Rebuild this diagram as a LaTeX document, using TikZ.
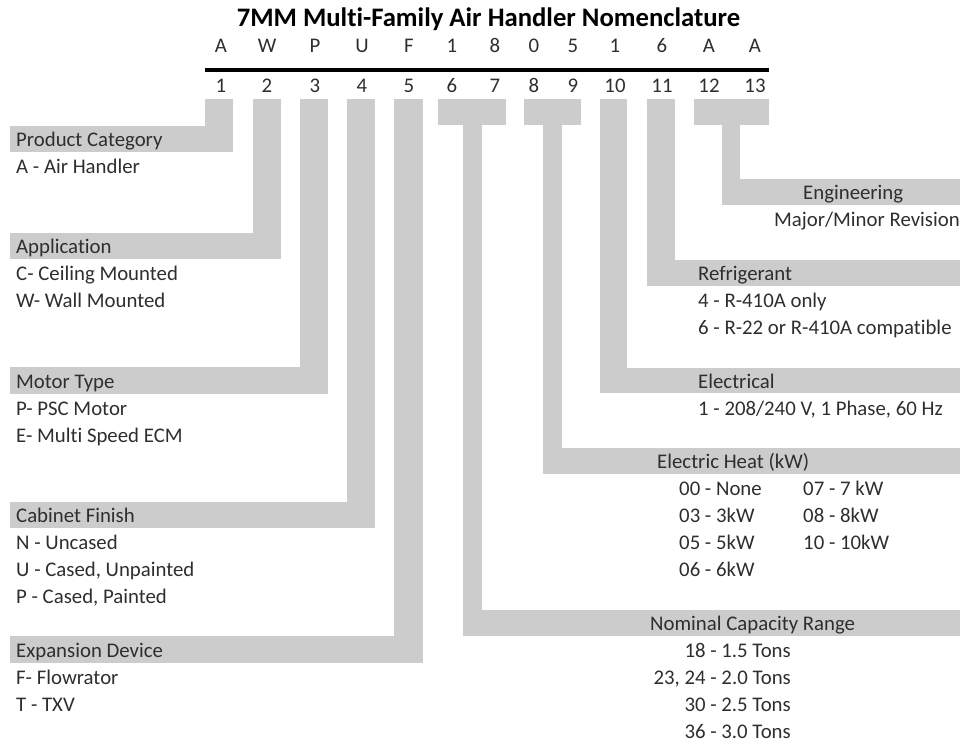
\documentclass[tikz,border=0pt]{standalone}
\usepackage{fontspec}
\setmainfont{Carlito}[Ligatures={NoCommon}]
\usetikzlibrary{positioning}
\definecolor{bargray}{HTML}{CCCCCC}
\definecolor{inkgray}{HTML}{2E2E2E}
\tikzset{
  txt/.style={inner sep=0pt, text=inkgray, font=\fontsize{20.8bp}{24bp}\selectfont},
  lbl/.style={txt, anchor=base west},
  rlbl/.style={txt, anchor=base east},
  digit/.style={txt, anchor=base},
}

\begin{document}
\begin{tikzpicture}[x=1bp, y=-1bp]
    \useasboundingbox (0,0) rectangle (964,742);
    \node [digit, font=\fontsize{26.7bp}{30bp}\selectfont\bfseries, text=black] (title) at (488.5,27) {7MM Multi-Family Air Handler Nomenclature};
    %
    \node [digit] (c1) at (221,53) {A};
    \node [digit] (c2) at (267,53) {W};
    \node [digit] (c3) at (315,53) {P};
    \node [digit] (c4) at (362,53) {U};
    \node [digit] (c5) at (409,53) {F};
    \node [digit] (c6) at (452,53) {1};
    \node [digit] (c7) at (495,53) {8};
    \node [digit] (c8) at (534,53) {0};
    \node [digit] (c9) at (573,53) {5};
    \node [digit] (c10) at (615,53) {1};
    \node [digit] (c11) at (662,53) {6};
    \node [digit] (c12) at (709,53) {A};
    \node [digit] (c13) at (755,53) {A};
    \draw [line width=4.5bp, black] (205,70)--(769,70);
    \node [digit] (n1) at (221,93) {1};
    \node [digit] (n2) at (267,93) {2};
    \node [digit] (n3) at (315,93) {3};
    \node [digit] (n4) at (362,93) {4};
    \node [digit] (n5) at (409,93) {5};
    \node [digit] (n6) at (452,93) {6};
    \node [digit] (n7) at (495,93) {7};
    \node [digit] (n8) at (534,93) {8};
    \node [digit] (n9) at (573,93) {9};
    \node [digit] (n10) at (615,93) {10};
    \node [digit] (n11) at (662,93) {11};
    \node [digit] (n12) at (709,93) {12};
    \node [digit] (n13) at (755,93) {13};
    %
    \fill [bargray] (205,99) rectangle (233,152);
    \fill [bargray] (10,126) rectangle (233,152);
    \fill [bargray] (253,99) rectangle (281,259);
    \fill [bargray] (10,233) rectangle (281,259);
    \fill [bargray] (300,99) rectangle (328,394);
    \fill [bargray] (10,367) rectangle (328,394);
    \fill [bargray] (347,99) rectangle (375,528);
    \fill [bargray] (10,502) rectangle (375,528);
    \fill [bargray] (394,99) rectangle (423,663);
    \fill [bargray] (10,636) rectangle (423,663);
    \fill [bargray] (438,99) rectangle (506,125);
    \fill [bargray] (463,125) rectangle (482,636);
    \fill [bargray] (463,610) rectangle (960,636);
    \fill [bargray] (524,99) rectangle (581,125);
    \fill [bargray] (543,125) rectangle (562,474);
    \fill [bargray] (543,448) rectangle (960,474);
    \fill [bargray] (600,99) rectangle (627,393);
    \fill [bargray] (600,368) rectangle (960,393);
    \fill [bargray] (647,99) rectangle (675,286);
    \fill [bargray] (647,260) rectangle (960,286);
    \fill [bargray] (694,99) rectangle (769,125);
    \fill [bargray] (722,125) rectangle (740,205);
    \fill [bargray] (722,179) rectangle (960,205);
    %
    \node [lbl] (prod) at (16,146) {Product Category};
    \node [lbl] (prodA) at (16,173) {A - Air Handler};
    \node [lbl] (appl) at (16,253) {Application};
    \node [lbl] (applC) at (16,280) {C- Ceiling Mounted};
    \node [lbl] (applW) at (16,307) {W- Wall Mounted};
    \node [lbl] (motor) at (16,388) {Motor Type};
    \node [lbl] (motorP) at (16,415) {P- PSC Motor};
    \node [lbl] (motorE) at (16,442) {E- Multi Speed ECM};
    \node [lbl] (cab) at (16,522) {Cabinet Finish};
    \node [lbl] (cabN) at (16,549) {N - Uncased};
    \node [lbl] (cabU) at (16,576) {U - Cased, Unpainted};
    \node [lbl] (cabP) at (16,603) {P - Cased, Painted};
    \node [lbl] (exp) at (16,657) {Expansion Device};
    \node [lbl] (expF) at (16,684) {F- Flowrator};
    \node [lbl] (expT) at (16,711) {T - TXV};
    %
    \node [lbl] (eng) at (803,199) {Engineering};
    \node [lbl] (engR) at (774,226) {Major/Minor Revision};
    \node [lbl] (refr) at (698,280) {Refrigerant};
    \node [lbl] (refr4) at (698,307) {4 - R-410A only};
    \node [lbl] (refr6) at (698,334) {6 - R-22 or R-410A compatible};
    \node [lbl] (elec) at (698,388) {Electrical};
    \node [lbl] (elec1) at (698,415) {1 - 208/240 V, 1 Phase, 60 Hz};
    \node [lbl] (heat) at (657,468) {Electric Heat (kW)};
    \node [lbl] (heat00) at (679,495) {00 - None};
    \node [lbl] (heat03) at (679,522) {03 - 3kW};
    \node [lbl] (heat05) at (679,549) {05 - 5kW};
    \node [lbl] (heat06) at (679,576) {06 - 6kW};
    \node [lbl] (heat07) at (803,495) {07 - 7 kW};
    \node [lbl] (heat08) at (803,522) {08 - 8kW};
    \node [lbl] (heat10) at (803,549) {10 - 10kW};
    \node [lbl] (cap) at (650,630) {Nominal Capacity Range};
    \node [rlbl] (cap18) at (791,657) {18 - 1.5 Tons};
    \node [rlbl] (cap24) at (791,684) {23, 24 - 2.0 Tons};
    \node [rlbl] (cap30) at (791,711) {30 - 2.5 Tons};
    \node [rlbl] (cap36) at (791,738) {36 - 3.0 Tons};
\end{tikzpicture}
\end{document}
